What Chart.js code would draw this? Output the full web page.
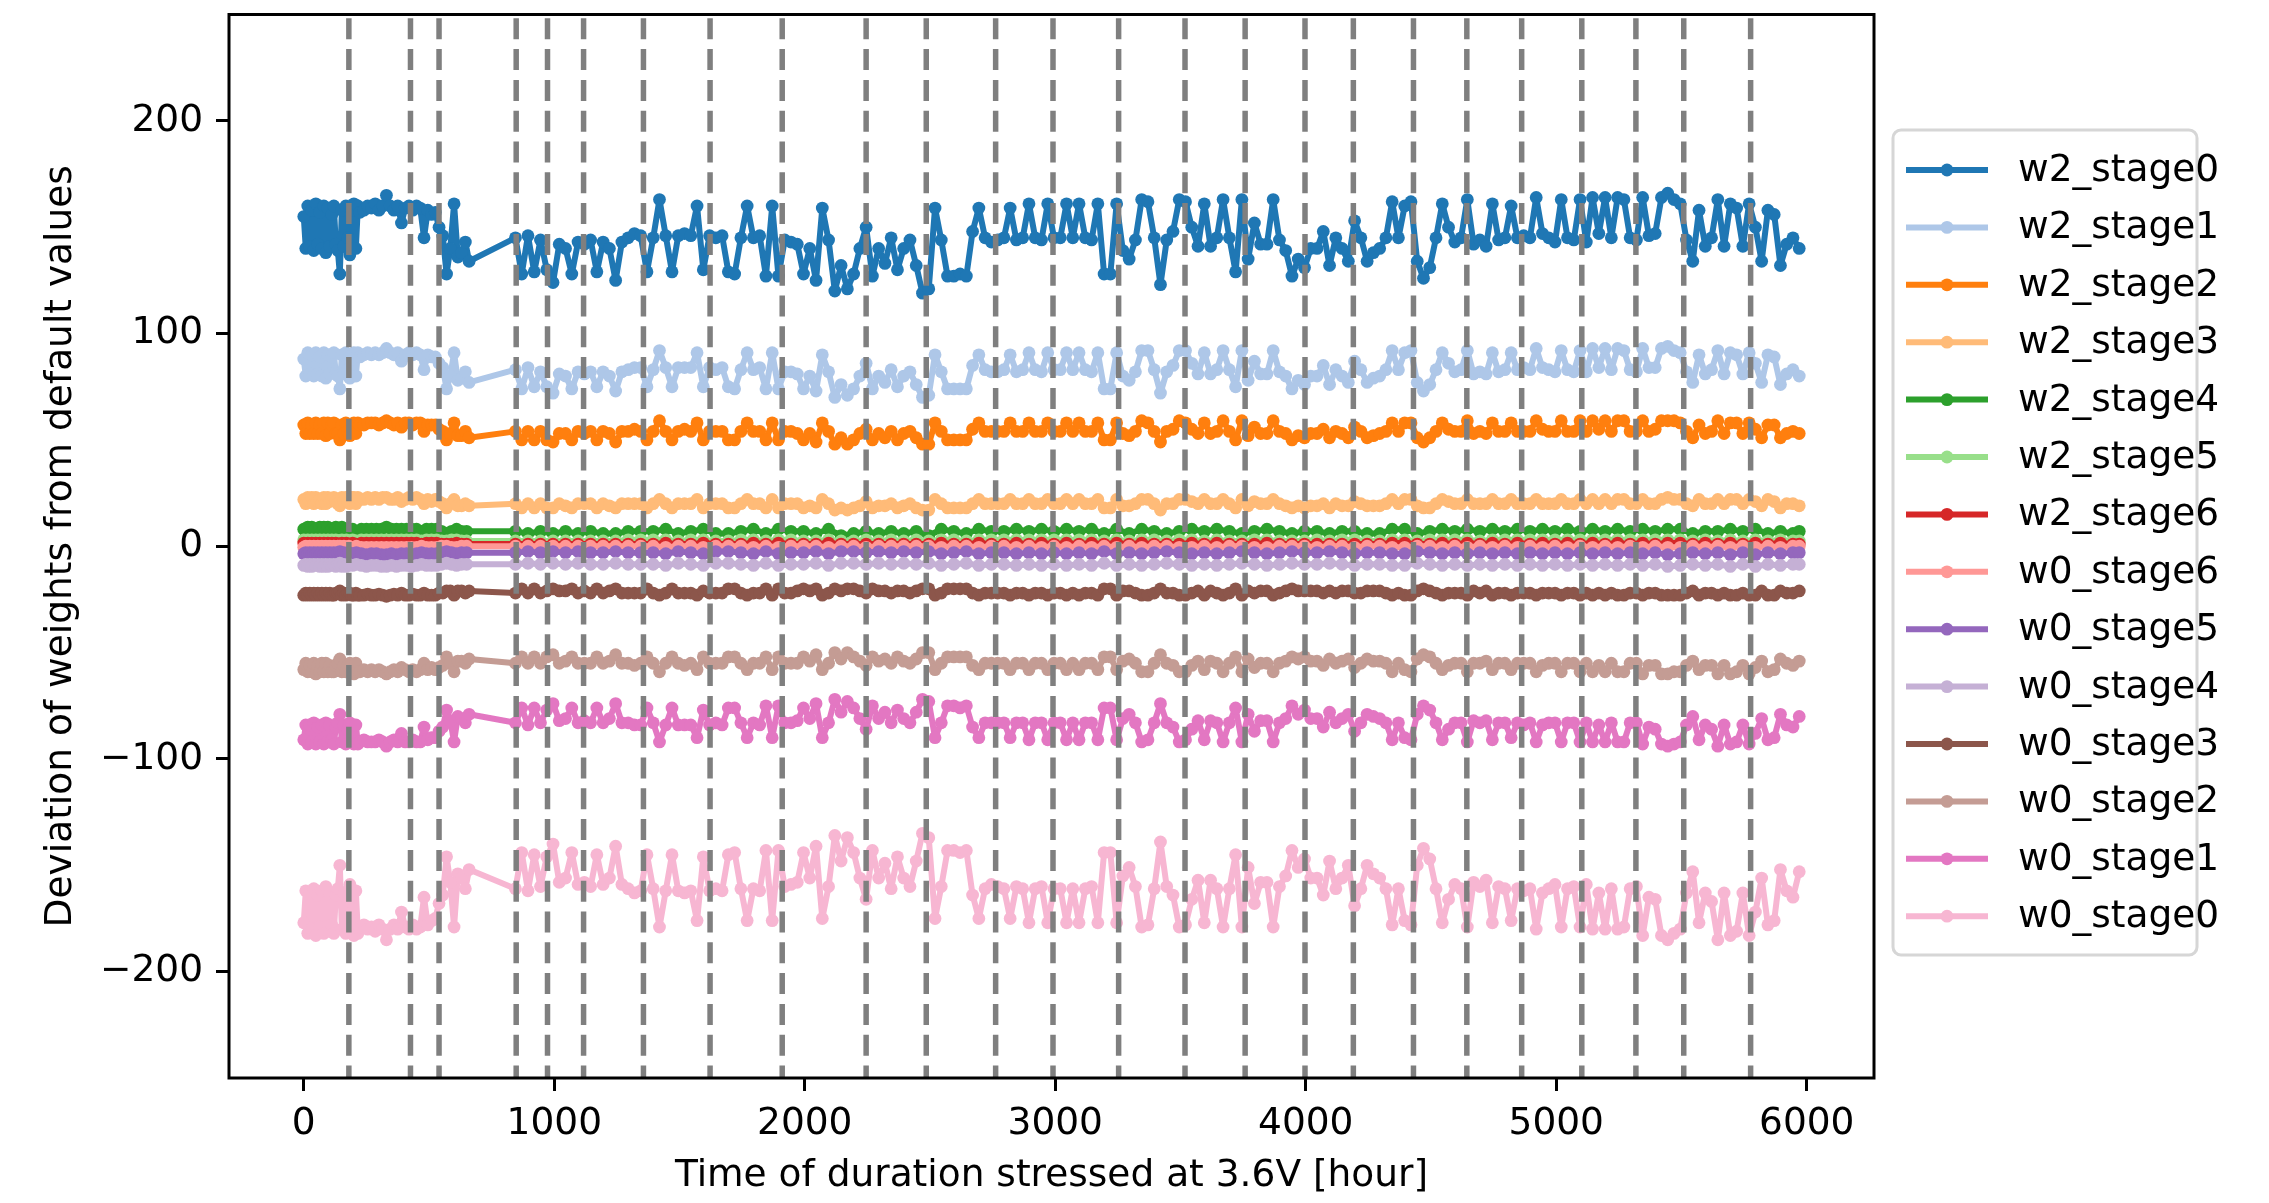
<!DOCTYPE html>
<html>
<head>
<meta charset="utf-8">
<script src="https://cdn.jsdelivr.net/npm/chart.js@4.4.0/dist/chart.umd.min.js"></script>
<style>
  html, body { margin: 0; padding: 0; background: #fff; }
  #wrap { width: 2269px; height: 1203px; }
</style>
</head>
<body>
<div id="wrap"><canvas id="chart" width="2269" height="1203"></canvas></div>
<script>
// Horas de estrés: grilla densa (series con mucha variación) y grilla gruesa (series casi planas)
const hoursDense = [
  0, 8, 16, 24, 32, 40, 48, 56, 64, 72,
  80, 88, 96, 104, 112, 120, 128, 136, 144, 152,
  160, 168, 176, 184, 192, 200, 208, 216, 224,
  240, 255, 270, 285, 300, 315, 330, 345, 360, 375,
  390, 405, 420, 435, 450, 465, 480, 495, 510, 525,
  540, 555, 570, 585, 600, 615, 630, 645, 660,
  845, 870, 895, 920, 945, 970, 995, 1020, 1045, 1070,
  1095, 1120, 1145, 1170, 1195, 1220, 1245, 1270, 1295, 1320,
  1345, 1370, 1395, 1420, 1445, 1470, 1495, 1520, 1545, 1570,
  1595, 1620, 1645, 1670, 1695, 1720, 1745, 1770, 1795, 1820,
  1845, 1870, 1895, 1920, 1945, 1970, 1995, 2020, 2045, 2070,
  2095, 2120, 2145, 2170, 2195, 2220, 2245, 2270, 2295, 2320,
  2345, 2370, 2395, 2420, 2445, 2470, 2495, 2520, 2545, 2570,
  2595, 2620, 2645, 2670, 2695, 2720, 2745, 2770, 2795, 2820,
  2845, 2870, 2895, 2920, 2945, 2970, 2995, 3020, 3045, 3070,
  3095, 3120, 3145, 3170, 3195, 3220, 3245, 3270, 3295, 3320,
  3345, 3370, 3395, 3420, 3445, 3470, 3495, 3520, 3545, 3570,
  3595, 3620, 3645, 3670, 3695, 3720, 3745, 3770, 3795, 3820,
  3845, 3870, 3895, 3920, 3945, 3970, 3995, 4020, 4045, 4070,
  4095, 4120, 4145, 4170, 4195, 4220, 4245, 4270, 4295, 4320,
  4345, 4370, 4395, 4420, 4445, 4470, 4495, 4520, 4545, 4570,
  4595, 4620, 4645, 4670, 4695, 4720, 4745, 4770, 4795, 4820,
  4845, 4870, 4895, 4920, 4945, 4970, 4995, 5020, 5045, 5070,
  5095, 5120, 5145, 5170, 5195, 5220, 5245, 5270, 5295, 5320,
  5345, 5370, 5395, 5420, 5445, 5470, 5495, 5520, 5545, 5570,
  5595, 5620, 5645, 5670, 5695, 5720, 5745, 5770, 5795, 5820,
  5845, 5870, 5895, 5920, 5945, 5970
];

const hoursCoarse = [
  0, 8, 16, 24, 32, 40, 48, 56, 64, 72,
  80, 88, 96, 104, 112, 120, 128, 136, 144, 152,
  160, 170, 180, 195, 210, 230, 250, 270, 290, 310,
  330, 350, 370, 390, 410, 430, 450, 470, 490, 510,
  530, 550, 570, 590, 610, 630, 650, 845, 895, 945,
  995, 1045, 1095, 1145, 1195, 1245, 1295, 1345, 1395, 1445,
  1495, 1545, 1595, 1645, 1695, 1745, 1795, 1845, 1895, 1945,
  1995, 2045, 2095, 2145, 2195, 2245, 2295, 2345, 2395, 2445,
  2495, 2545, 2595, 2645, 2695, 2745, 2795, 2845, 2895, 2945,
  2995, 3045, 3095, 3145, 3195, 3245, 3295, 3345, 3395, 3445,
  3495, 3545, 3595, 3645, 3695, 3745, 3795, 3845, 3895, 3945,
  3995, 4045, 4095, 4145, 4195, 4245, 4295, 4345, 4395, 4445,
  4495, 4545, 4595, 4645, 4695, 4745, 4795, 4845, 4895, 4945,
  4995, 5045, 5095, 5145, 5195, 5245, 5295, 5345, 5395, 5445,
  5495, 5545, 5595, 5645, 5695, 5745, 5795, 5845, 5895, 5945,
  5970
];

// --- series en grilla densa ---
const w2Stage0 = [
  155, 140, 160, 141, 158, 139, 161, 142, 157, 140,
  160, 138, 159, 141, 156, 160, 142, 139, 128, 158,
  141, 160, 145, 137, 158, 161, 140, 160, 157,
  158, 160, 159, 161, 158, 160, 165, 160, 158, 160,
  152, 159, 160, 158, 160, 159, 145, 158, 156, 157,
  150, 146, 128, 140, 161, 136, 138, 143, 134,
  145, 128, 146, 129, 144, 130, 124, 142, 140, 128,
  143, 142, 144, 129, 143, 140, 125, 143, 145, 147,
  146, 129, 145, 163, 146, 129, 146, 147, 146, 160,
  130, 146, 145, 146, 129, 128, 145, 160, 145, 146,
  127, 160, 127, 144, 143, 142, 128, 140, 125, 159,
  144, 120, 132, 121, 128, 140, 150, 127, 140, 133,
  145, 130, 140, 144, 132, 119, 121, 159, 144, 127,
  127, 128, 127, 148, 159, 145, 143, 144, 145, 159,
  144, 145, 161, 145, 144, 161, 145, 145, 161, 145,
  161, 145, 144, 161, 128, 128, 161, 139, 135, 144,
  163, 162, 145, 123, 144, 148, 163, 162, 150, 141,
  161, 141, 145, 163, 145, 129, 163, 135, 152, 142,
  142, 163, 144, 139, 127, 135, 131, 140, 140, 148,
  132, 145, 140, 134, 153, 145, 134, 138, 140, 145,
  162, 145, 160, 162, 134, 126, 131, 145, 161, 150,
  143, 145, 163, 142, 144, 141, 161, 144, 145, 160,
  145, 146, 145, 164, 147, 145, 143, 163, 145, 144,
  163, 143, 164, 147, 164, 145, 164, 163, 145, 144,
  164, 146, 147, 164, 166, 163, 161, 144, 134, 158,
  141, 145, 163, 141, 161, 159, 141, 161, 150, 134,
  158, 156, 132, 142, 145, 140
];

const w2Stage1 = [
  88, 80, 91, 81, 90, 80, 91, 81, 89, 80,
  91, 79, 90, 81, 89, 91, 81, 80, 74, 90,
  81, 91, 83, 79, 90, 91, 80, 91, 89,
  90, 91, 90, 91, 90, 91, 93, 91, 90, 91,
  87, 90, 91, 90, 91, 90, 83, 90, 89, 89,
  86, 84, 74, 80, 91, 78, 79, 82, 77,
  83, 74, 84, 75, 82, 75, 72, 81, 80, 74,
  82, 81, 82, 75, 82, 80, 73, 82, 83, 84,
  84, 75, 83, 92, 84, 75, 84, 84, 84, 91,
  75, 84, 83, 84, 75, 74, 83, 91, 83, 84,
  74, 91, 74, 82, 82, 81, 74, 80, 73, 90,
  82, 70, 76, 71, 74, 80, 86, 74, 80, 77,
  83, 75, 80, 82, 76, 70, 71, 90, 82, 74,
  74, 74, 74, 85, 90, 83, 82, 82, 83, 90,
  82, 83, 91, 83, 82, 91, 83, 83, 91, 83,
  91, 83, 82, 91, 74, 74, 91, 80, 78, 82,
  92, 92, 83, 72, 82, 85, 92, 92, 86, 81,
  91, 81, 83, 92, 83, 75, 92, 78, 87, 81,
  81, 92, 82, 80, 74, 78, 76, 80, 80, 85,
  76, 83, 80, 77, 87, 83, 77, 79, 80, 83,
  92, 83, 91, 92, 77, 73, 76, 83, 91, 86,
  82, 83, 92, 81, 82, 81, 91, 82, 83, 91,
  83, 84, 83, 93, 84, 83, 82, 92, 83, 82,
  92, 82, 93, 84, 93, 83, 93, 92, 83, 82,
  93, 84, 84, 93, 94, 92, 91, 82, 77, 90,
  81, 83, 92, 81, 91, 90, 81, 91, 86, 77,
  90, 89, 76, 81, 83, 80
];

const w2Stage2 = [
  57, 53, 58, 53, 57, 53, 58, 53, 57, 53,
  58, 52, 58, 53, 57, 58, 53, 53, 50, 57,
  53, 58, 54, 52, 57, 58, 53, 58, 57,
  57, 58, 58, 58, 57, 58, 59, 58, 57, 58,
  56, 58, 58, 57, 58, 58, 54, 57, 57, 57,
  55, 54, 50, 53, 58, 52, 52, 54, 51,
  54, 50, 54, 50, 54, 50, 49, 53, 53, 50,
  54, 53, 54, 50, 54, 53, 49, 54, 54, 55,
  54, 50, 54, 59, 54, 50, 54, 55, 54, 58,
  50, 54, 54, 54, 50, 50, 54, 58, 54, 54,
  50, 58, 50, 54, 54, 53, 50, 53, 49, 58,
  54, 48, 51, 48, 50, 53, 55, 50, 53, 51,
  54, 50, 53, 54, 51, 48, 48, 58, 54, 50,
  50, 50, 50, 55, 58, 54, 54, 54, 54, 58,
  54, 54, 58, 54, 54, 58, 54, 54, 58, 54,
  58, 54, 54, 58, 50, 50, 58, 53, 52, 54,
  59, 58, 54, 49, 54, 55, 59, 58, 55, 53,
  58, 53, 54, 59, 54, 50, 59, 52, 56, 53,
  53, 59, 54, 53, 50, 52, 51, 53, 53, 55,
  51, 54, 53, 51, 56, 54, 51, 52, 53, 54,
  58, 54, 58, 58, 51, 49, 51, 54, 58, 55,
  54, 54, 59, 53, 54, 53, 58, 54, 54, 58,
  54, 54, 54, 59, 55, 54, 54, 59, 54, 54,
  59, 54, 59, 55, 59, 54, 59, 59, 54, 54,
  59, 54, 55, 59, 59, 59, 58, 54, 51, 57,
  53, 54, 59, 53, 58, 58, 53, 58, 55, 51,
  57, 57, 51, 53, 54, 53
];

const w2Stage3 = [
  22, 20, 23, 21, 23, 20, 23, 21, 22, 20,
  23, 20, 23, 21, 22, 23, 21, 20, 19, 23,
  21, 23, 21, 20, 23, 23, 20, 23, 22,
  22, 23, 22, 23, 22, 23, 23, 22, 22, 23,
  21, 22, 23, 22, 23, 22, 20, 22, 21, 22,
  21, 20, 18, 20, 22, 19, 19, 20, 19,
  20, 18, 20, 18, 20, 18, 18, 20, 19, 18,
  20, 20, 20, 18, 20, 19, 18, 20, 20, 20,
  20, 18, 20, 22, 20, 18, 20, 20, 20, 22,
  18, 20, 20, 20, 18, 18, 20, 22, 20, 20,
  18, 22, 18, 20, 20, 20, 18, 19, 18, 22,
  20, 17, 18, 17, 18, 19, 21, 18, 19, 19,
  20, 18, 19, 20, 18, 17, 17, 22, 20, 18,
  18, 18, 18, 20, 22, 20, 20, 20, 20, 22,
  20, 20, 22, 20, 20, 22, 20, 20, 22, 20,
  22, 20, 20, 22, 18, 18, 22, 19, 19, 20,
  22, 22, 20, 17, 20, 20, 22, 22, 21, 20,
  22, 20, 20, 22, 20, 18, 22, 19, 21, 20,
  20, 22, 20, 19, 18, 19, 18, 19, 19, 20,
  18, 20, 19, 19, 21, 20, 19, 19, 19, 20,
  22, 20, 22, 22, 19, 18, 18, 20, 22, 21,
  20, 20, 22, 20, 20, 20, 22, 20, 20, 22,
  20, 20, 20, 22, 20, 20, 20, 22, 20, 20,
  22, 20, 22, 20, 22, 20, 22, 22, 20, 20,
  22, 20, 20, 22, 23, 22, 22, 20, 19, 22,
  20, 20, 22, 20, 22, 22, 20, 22, 21, 19,
  22, 21, 18, 20, 20, 19
];

const w0Stage3 = [
  -23, -22, -23, -22, -23, -22, -23, -22, -23, -22,
  -23, -22, -23, -22, -23, -23, -22, -22, -21, -23,
  -22, -23, -22, -22, -23, -23, -22, -23, -23,
  -23, -22.5, -23, -23, -22.5, -23, -23.5, -23, -22.5, -23,
  -22, -23, -23, -22.5, -23, -23, -22, -23, -23, -23,
  -22, -22, -21, -21, -23, -21, -21, -22, -21,
  -22, -20, -22, -20, -22, -21, -20, -21, -21, -20,
  -22, -21, -22, -20, -22, -21, -20, -22, -22, -22,
  -22, -20, -22, -23, -22, -20, -22, -22, -22, -23,
  -21, -22, -22, -22, -20, -20, -22, -23, -22, -22,
  -20, -23, -20, -22, -22, -21, -20, -21, -20, -23,
  -22, -20, -21, -20, -20, -21, -22, -20, -21, -21,
  -22, -21, -21, -22, -21, -20, -20, -23, -22, -20,
  -20, -20, -20, -22, -23, -22, -22, -22, -22, -23,
  -22, -22, -23, -22, -22, -23, -22, -22, -23, -22,
  -23, -22, -22, -23, -20, -20, -23, -21, -21, -22,
  -23, -23, -22, -20, -22, -22, -23, -23, -22, -21,
  -23, -21, -22, -23, -22, -20, -23, -21, -22, -21,
  -21, -23, -22, -21, -20, -21, -21, -21, -21, -22,
  -21, -22, -21, -21, -22, -22, -21, -21, -21, -22,
  -23, -22, -23, -23, -21, -20, -21, -22, -23, -22,
  -22, -22, -23, -21, -22, -21, -23, -22, -22, -23,
  -22, -22, -22, -23, -22, -22, -22, -23, -22, -22,
  -23, -22, -23, -22, -23, -22, -23, -23, -22, -22,
  -23, -22, -22, -23, -23, -23, -23, -22, -21, -23,
  -22, -22, -23, -22, -23, -23, -22, -23, -23, -21,
  -23, -23, -21, -22, -22, -21
];

const w0Stage2 = [
  -58, -55, -59, -56, -59, -55, -60, -56, -59, -55,
  -59, -55, -59, -56, -59, -59, -56, -55, -53, -59,
  -56, -59, -56, -55, -59, -60, -55, -59, -59,
  -58, -59, -58, -59, -58, -59, -60, -59, -58, -59,
  -57, -58, -59, -58, -59, -58, -55, -58, -57, -58,
  -57, -56, -52, -55, -59, -54, -54, -55, -53,
  -55, -52, -55, -52, -55, -52, -51, -55, -54, -52,
  -55, -55, -55, -52, -55, -54, -51, -55, -55, -56,
  -55, -52, -55, -59, -55, -52, -55, -56, -55, -58,
  -52, -55, -55, -55, -52, -52, -55, -58, -55, -55,
  -52, -58, -52, -55, -55, -55, -52, -54, -51, -58,
  -55, -50, -53, -50, -52, -54, -56, -52, -54, -53,
  -55, -52, -54, -55, -53, -50, -50, -58, -55, -52,
  -52, -52, -52, -56, -58, -55, -55, -55, -55, -58,
  -55, -55, -58, -55, -55, -58, -55, -55, -58, -55,
  -58, -55, -55, -58, -52, -52, -58, -54, -53, -55,
  -59, -59, -55, -51, -55, -56, -59, -59, -56, -54,
  -58, -54, -55, -59, -55, -52, -59, -53, -57, -55,
  -55, -59, -55, -54, -52, -53, -52, -54, -54, -56,
  -53, -55, -54, -53, -57, -55, -53, -54, -54, -55,
  -59, -55, -58, -59, -53, -51, -52, -55, -58, -56,
  -55, -55, -59, -55, -55, -54, -58, -55, -55, -58,
  -55, -55, -55, -59, -56, -55, -55, -59, -55, -55,
  -59, -55, -59, -56, -59, -55, -59, -59, -55, -55,
  -60, -56, -56, -60, -60, -59, -59, -56, -54, -58,
  -56, -56, -60, -56, -60, -59, -56, -60, -57, -54,
  -59, -58, -53, -55, -56, -54
];

const w0Stage1 = [
  -91, -84, -93, -84, -92, -83, -93, -85, -92, -84,
  -93, -83, -92, -84, -91, -93, -85, -83, -79, -92,
  -84, -93, -86, -83, -92, -93, -84, -93, -92,
  -91, -92, -92, -92, -91, -92, -94, -92, -91, -92,
  -88, -92, -92, -91, -92, -92, -85, -91, -90, -90,
  -87, -85, -77, -82, -92, -80, -81, -83, -79,
  -83, -76, -84, -76, -83, -77, -74, -82, -81, -76,
  -83, -82, -83, -76, -83, -81, -74, -83, -83, -84,
  -84, -76, -83, -92, -84, -76, -84, -84, -84, -90,
  -77, -84, -83, -84, -76, -76, -83, -90, -83, -84,
  -75, -90, -75, -83, -83, -82, -76, -81, -74, -90,
  -83, -72, -78, -73, -76, -81, -86, -75, -81, -78,
  -83, -77, -81, -83, -78, -72, -73, -90, -83, -75,
  -75, -76, -75, -85, -90, -83, -83, -83, -83, -90,
  -83, -83, -91, -83, -83, -91, -83, -83, -91, -83,
  -91, -83, -83, -91, -76, -76, -91, -81, -79, -83,
  -92, -91, -83, -74, -83, -85, -92, -91, -86, -82,
  -91, -82, -83, -92, -83, -76, -92, -79, -87, -82,
  -82, -92, -83, -81, -75, -79, -77, -81, -81, -85,
  -78, -83, -81, -79, -87, -83, -79, -80, -81, -83,
  -91, -83, -90, -91, -79, -75, -77, -83, -91, -86,
  -83, -83, -92, -82, -83, -82, -91, -83, -83, -90,
  -83, -84, -83, -92, -84, -83, -83, -92, -83, -83,
  -92, -83, -92, -84, -92, -83, -92, -92, -83, -83,
  -93, -85, -86, -93, -94, -93, -92, -84, -80, -91,
  -84, -86, -94, -84, -93, -92, -84, -93, -88, -81,
  -91, -90, -79, -84, -85, -80
];

const w0Stage0 = [
  -177, -162, -182, -163, -180, -161, -183, -164, -179, -162,
  -182, -160, -181, -163, -178, -182, -164, -161, -150, -180,
  -163, -182, -167, -159, -180, -183, -162, -182, -179,
  -178, -180, -179, -181, -178, -180, -185, -180, -178, -180,
  -172, -179, -180, -178, -180, -179, -165, -178, -176, -175,
  -168, -164, -146, -158, -179, -154, -156, -161, -152,
  -161, -144, -162, -145, -160, -146, -140, -158, -156, -144,
  -159, -158, -160, -145, -159, -156, -141, -159, -161, -163,
  -162, -145, -161, -179, -162, -145, -162, -163, -162, -176,
  -146, -162, -161, -162, -145, -144, -161, -176, -161, -162,
  -143, -176, -143, -160, -159, -158, -144, -156, -141, -175,
  -160, -136, -148, -137, -144, -156, -166, -143, -156, -149,
  -161, -146, -156, -160, -148, -135, -137, -175, -160, -143,
  -143, -144, -143, -164, -175, -161, -159, -160, -161, -175,
  -160, -161, -177, -161, -160, -177, -161, -161, -177, -161,
  -177, -161, -160, -177, -144, -144, -177, -155, -151, -160,
  -179, -178, -161, -139, -160, -164, -179, -178, -166, -157,
  -177, -157, -161, -179, -161, -145, -179, -151, -168, -158,
  -158, -179, -160, -155, -143, -151, -147, -156, -156, -164,
  -148, -161, -156, -150, -169, -161, -150, -154, -156, -161,
  -178, -161, -176, -178, -150, -142, -147, -161, -177, -166,
  -159, -161, -179, -158, -160, -157, -177, -160, -161, -176,
  -161, -162, -161, -180, -163, -161, -159, -179, -161, -160,
  -179, -159, -180, -163, -180, -161, -180, -179, -161, -160,
  -183, -165, -166, -183, -185, -182, -180, -163, -153, -177,
  -163, -167, -185, -163, -183, -181, -163, -183, -172, -156,
  -178, -176, -152, -162, -165, -153
];

// --- series casi planas, en grilla gruesa ---
const w2Stage4 = [
  8, 7, 9, 7, 9, 7, 8, 7, 9, 7,
  9, 7, 9, 7, 8, 7, 9, 7, 6, 9,
  7, 8, 7, 8, 7, 8, 8, 8, 8, 8,
  9, 8, 8, 8, 8, 8, 8, 7, 8, 8,
  8, 7, 6, 7, 8, 7, 7, 7, 6, 7,
  6, 7, 6, 7, 6, 6, 7, 7, 7, 8,
  6, 7, 8, 6, 6, 7, 8, 6, 8, 7,
  7, 6, 8, 5, 6, 7, 6, 7, 6, 7,
  5, 8, 7, 6, 8, 7, 7, 8, 7, 8,
  7, 8, 7, 8, 6, 8, 6, 8, 7, 6,
  7, 8, 7, 8, 7, 6, 7, 8, 7, 6,
  7, 7, 6, 7, 7, 6, 6, 8, 8, 6,
  7, 8, 7, 8, 7, 8, 7, 8, 7, 8,
  7, 8, 7, 8, 7, 8, 7, 8, 7, 8,
  8, 6, 7, 7, 8, 7, 8, 6, 7, 6,
  7
];

const w2Stage5 = [
  3, 2.5, 3, 2.5, 3, 2.5, 3, 2.5, 3, 2.5,
  3, 2.5, 3, 2.5, 3, 2.5, 3, 2.5, 2.5, 3,
  2.5, 3, 2.5, 3, 2.5, 3, 3, 3, 3, 3,
  3, 3, 3, 3, 3, 3, 3, 2.5, 3, 3,
  3, 2.5, 2.5, 3, 3, 2.5, 2.5, 2.5, 2.5, 2.5,
  2.5, 2.5, 2.5, 2.5, 2.5, 2.5, 3, 3, 3, 3,
  2.5, 3, 3, 2.5, 2.5, 3, 3, 2.5, 3, 3,
  2.5, 2.5, 3, 2.5, 2.5, 3, 2.5, 3, 2.5, 3,
  2.5, 3, 3, 2.5, 3, 3, 3, 3, 3, 3,
  3, 3, 3, 3, 2.5, 3, 2.5, 3, 3, 2.5,
  3, 3, 2.5, 3, 2.5, 2.5, 3, 3, 2.5, 2.5,
  2.5, 3, 2.5, 3, 3, 2.5, 2.5, 3, 3, 2.5,
  3, 3, 3, 3, 2.5, 3, 3, 3, 3, 3,
  3, 3, 3, 3, 3, 3, 3, 3, 3, 3,
  3, 2.5, 3, 2.5, 3, 2.5, 3, 2.5, 3, 2.5,
  2.5
];

const w2Stage6 = [
  1.5, 1, 1.5, 1, 1.5, 1, 1.5, 1, 1.5, 1,
  1.5, 1, 1.5, 1, 1.5, 1, 1.5, 1, 1, 1.5,
  1, 1.5, 1, 1.5, 1, 1.5, 1.5, 1.5, 1.5, 1.5,
  1.5, 1.5, 1.5, 1.5, 1.5, 1.5, 1.5, 1, 1.5, 1.5,
  1.5, 1, 1, 1, 1.5, 1, 1, 1, 1, 1,
  1, 1, 1, 1, 1, 1, 1, 1, 1, 1.5,
  1, 1, 1.5, 1, 1, 1, 1.5, 1, 1.5, 1,
  1, 1, 1.5, 1, 1, 1, 1, 1, 1, 1,
  1, 1.5, 1, 1, 1.5, 1, 1, 1.5, 1, 1.5,
  1, 1.5, 1, 1.5, 1, 1.5, 1, 1.5, 1, 1,
  1, 1.5, 1, 1.5, 1, 1, 1, 1.5, 1, 1,
  1, 1, 1, 1, 1, 1, 1, 1.5, 1.5, 1,
  1, 1.5, 1, 1.5, 1, 1.5, 1, 1.5, 1, 1.5,
  1, 1.5, 1, 1.5, 1, 1.5, 1, 1.5, 1, 1.5,
  1.5, 1, 1.5, 1, 1.5, 1, 1.5, 1, 1.5, 1,
  1
];

const w0Stage6 = [
  -0.5, 0, -0.5, 0, -0.5, 0, -0.5, 0, -0.5, 0,
  -0.5, 0, -0.5, 0, -0.5, 0, -0.5, 0, 0, -0.5,
  0, -0.5, 0, -0.5, 0, -0.5, -0.5, -0.5, -0.5, -0.5,
  -0.5, -0.5, -0.5, -0.5, -0.5, -0.5, -0.5, 0, -0.5, -0.5,
  -0.5, 0, 0, -0.5, -0.5, 0, 0, 0, 0, 0,
  0, 0, 0, 0, 0, 0, 0, 0, 0, -0.5,
  0, 0, -0.5, 0, 0, 0, -0.5, 0, -0.5, 0,
  0, 0, -0.5, 0, 0, -0.5, 0, 0, 0, 0,
  0, -0.5, 0, 0, -0.5, 0, 0, -0.5, 0, -0.5,
  0, -0.5, 0, -0.5, 0, -0.5, 0, -0.5, 0, 0,
  -0.5, -0.5, 0, -0.5, 0, 0, -0.5, -0.5, 0, 0,
  0, -0.5, 0, 0, -0.5, 0, 0, -0.5, -0.5, 0,
  0, -0.5, 0, -0.5, 0, -0.5, 0, -0.5, 0, -0.5,
  0, -0.5, 0, -0.5, 0, -0.5, 0, -0.5, 0, -0.5,
  -0.5, 0, -0.5, 0, -0.5, 0, -0.5, 0, -0.5, 0,
  0
];

const w0Stage5 = [
  -3.5, -3, -3.5, -3, -4, -3, -3.5, -3, -4, -3,
  -3.5, -3, -4, -3, -3.5, -3, -4, -3, -2.5, -3.5,
  -3, -4, -3, -3.5, -3, -3.5, -4, -3.5, -3.5, -4,
  -4, -3.5, -4, -3.5, -3.5, -4, -3.5, -3, -3.5, -3.5,
  -3.5, -3, -2.5, -3, -3.5, -3, -3, -3, -2.5, -3,
  -2.5, -3, -2.5, -3, -3, -2.5, -3, -3, -3, -3.5,
  -2.5, -3, -3.5, -2.5, -2.5, -3, -3.5, -2.5, -3.5, -3,
  -3, -2.5, -3.5, -2.5, -2.5, -3, -2.5, -3, -2.5, -3,
  -2.5, -3.5, -3, -2.5, -3.5, -3, -3, -3.5, -3, -3.5,
  -3, -3.5, -3, -3.5, -2.5, -3.5, -3, -3.5, -3, -2.5,
  -3, -3.5, -3, -3.5, -3, -2.5, -3, -3.5, -3, -2.5,
  -3, -3, -2.5, -3, -3.5, -3, -3, -3.5, -3.5, -2.5,
  -3, -3.5, -3, -3.5, -3, -3.5, -3, -3.5, -3, -3.5,
  -3, -3.5, -3, -3.5, -3, -3.5, -3, -3.5, -3, -4,
  -3.5, -3, -3.5, -3, -4, -3, -4, -3, -3.5, -3,
  -3
];

const w0Stage4 = [
  -9, -8.5, -9.5, -8.5, -9.5, -8.5, -9, -8.5, -9.5, -8.5,
  -9.5, -8.5, -9.5, -8.5, -9, -8.5, -9.5, -8.5, -8, -9.5,
  -8.5, -9.5, -8.5, -9, -8.5, -9, -9.5, -9, -9, -9.5,
  -9.5, -9, -9.5, -9, -9, -9.5, -9, -8.5, -9, -9,
  -9, -8.5, -8, -8.5, -9, -8.5, -8.5, -8.5, -8, -8.5,
  -8, -8.5, -8, -8.5, -8.5, -8, -8.5, -8.5, -8.5, -9,
  -8, -8.5, -9, -8, -8, -8.5, -9, -8, -9, -8.5,
  -8.5, -8, -9, -8, -8, -8.5, -8, -8.5, -8, -8.5,
  -8, -9, -8.5, -8, -9, -8.5, -8.5, -9, -8.5, -9,
  -8.5, -9, -8.5, -9, -8, -9, -8.5, -9, -8.5, -8,
  -8.5, -9, -8.5, -9, -8.5, -8, -8.5, -9, -8.5, -8,
  -8.5, -8.5, -8, -8.5, -9, -8.5, -8.5, -9, -9, -8,
  -8.5, -9, -8.5, -9, -8.5, -9, -8.5, -9, -8.5, -9,
  -8.5, -9, -8.5, -9, -8.5, -9, -8.5, -9, -8.5, -9.5,
  -9, -8.5, -9, -8.5, -9.5, -8.5, -9.5, -8.5, -9, -8.5,
  -8.5
];

const seriesNames = [
  'w2_stage0', 'w2_stage1', 'w2_stage2', 'w2_stage3', 'w2_stage4', 'w2_stage5', 'w2_stage6',
  'w0_stage6', 'w0_stage5', 'w0_stage4', 'w0_stage3', 'w0_stage2', 'w0_stage1', 'w0_stage0'
];
const seriesValues = [
  w2Stage0, w2Stage1, w2Stage2, w2Stage3, w2Stage4, w2Stage5, w2Stage6,
  w0Stage6, w0Stage5, w0Stage4, w0Stage3, w0Stage2, w0Stage1, w0Stage0
];
const seriesHours = [
  hoursDense, hoursDense, hoursDense, hoursDense, hoursCoarse, hoursCoarse, hoursCoarse,
  hoursCoarse, hoursCoarse, hoursCoarse, hoursDense, hoursDense, hoursDense, hoursDense
];

// Marcas de ejes y líneas verticales de interrupción del estrés
const xTicks = [0, 1000, 2000, 3000, 4000, 5000, 6000];
const yTicks = [-200, -100, 0, 100, 200];
const stressBreaks = [
  180, 426, 540, 848, 973, 1117, 1356, 1622, 1910, 2245, 2485, 2762, 2991,
  3253, 3518, 3758, 3997, 4190, 4430, 4643, 4862, 5102, 5318, 5509, 5776
];

// Paleta tab20
const palette = [
  '#1f77b4', '#aec7e8', '#ff7f0e', '#ffbb78', '#2ca02c', '#98df8a', '#d62728',
  '#ff9896', '#9467bd', '#c5b0d5', '#8c564b', '#c49c94', '#e377c2', '#f7b6d2'
];

const FONT = 'DejaVu Sans';
const FONT_SIZE = 37.5;
const LINE_W = 6;
const DOT_R = 6.4;

const datasets = seriesNames.map((name, i) => ({
  label: name,
  data: seriesHours[i].map((h, j) => ({ x: h, y: seriesValues[i][j] })),
  borderColor: palette[i],
  backgroundColor: palette[i],
  borderWidth: LINE_W,
  borderJoinStyle: 'round',
  borderCapStyle: 'round',
  pointRadius: DOT_R,
  pointHoverRadius: DOT_R,
  pointBorderWidth: 0,
  pointBackgroundColor: palette[i],
  tension: 0,
  order: -i
}));

// Líneas verticales discontinuas y marco del área
const stressLines = {
  id: 'stressLines',
  afterDatasetsDraw(chart) {
    const { ctx, chartArea: a, scales: { x } } = chart;
    ctx.save();
    ctx.beginPath();
    ctx.rect(a.left, a.top, a.right - a.left, a.bottom - a.top);
    ctx.clip();
    ctx.strokeStyle = '#7f7f7f';
    ctx.lineWidth = 5.5;
    ctx.setLineDash([21, 9.8]);
    ctx.lineDashOffset = 27;
    stressBreaks.forEach(h => {
      const px = x.getPixelForValue(h);
      ctx.beginPath();
      ctx.moveTo(px, a.top);
      ctx.lineTo(px, a.bottom);
      ctx.stroke();
    });
    ctx.restore();

    ctx.save();
    ctx.strokeStyle = '#000';
    ctx.lineWidth = 3;
    ctx.strokeRect(a.left, a.top, a.right - a.left, a.bottom - a.top);
    ctx.restore();
  }
};

// Leyenda lateral, al estilo matplotlib
const sideLegend = {
  id: 'sideLegend',
  afterDraw(chart) {
    const ctx = chart.ctx;
    const left = 1893, top = 130, right = 2197, bottom = 955;
    ctx.save();
    ctx.fillStyle = 'rgba(255,255,255,0.8)';
    ctx.strokeStyle = '#d6d6d6';
    ctx.lineWidth = 3;
    ctx.beginPath();
    ctx.roundRect(left, top, right - left, bottom - top, 8);
    ctx.fill();
    ctx.stroke();

    seriesNames.forEach((name, i) => {
      const y = 170 + i * 57.4;
      ctx.strokeStyle = palette[i];
      ctx.lineWidth = LINE_W;
      ctx.beginPath();
      ctx.moveTo(1906, y);
      ctx.lineTo(1988, y);
      ctx.stroke();
      ctx.fillStyle = palette[i];
      ctx.beginPath();
      ctx.arc(1947, y, DOT_R, 0, Math.PI * 2);
      ctx.fill();
      ctx.fillStyle = '#000';
      ctx.font = `${FONT_SIZE}px "${FONT}"`;
      ctx.textAlign = 'left';
      ctx.textBaseline = 'alphabetic';
      ctx.fillText(name, 2018, y + 11);
    });
    ctx.restore();
  }
};

const tickFont = { family: FONT, size: FONT_SIZE };

new Chart(document.getElementById('chart'), {
  type: 'line',
  data: { datasets },
  plugins: [stressLines, sideLegend],
  options: {
    responsive: false,
    devicePixelRatio: 1,
    animation: false,
    layout: { padding: { left: 0, top: 14.5, right: 395, bottom: 0 } },
    plugins: {
      legend: { display: false },
      tooltip: { enabled: false }
    },
    scales: {
      x: {
        type: 'linear',
        min: -298.5,
        max: 6268.5,
        afterBuildTicks: s => { s.ticks = xTicks.map(v => ({ value: v })); },
        afterFit: s => { s.height = 125; s.paddingLeft = 0; s.paddingRight = 0; },
        grid: { drawOnChartArea: false, tickLength: 13, tickWidth: 3, tickColor: '#000' },
        border: { display: false },
        ticks: {
          font: tickFont, color: '#000', padding: 11, maxRotation: 0, autoSkip: false,
          callback: v => String(v)
        },
        title: {
          display: true,
          text: 'Time of duration stressed at 3.6V [hour]',
          font: tickFont,
          color: '#000',
          padding: { top: 0, bottom: 4 }
        }
      },
      y: {
        type: 'linear',
        min: -250,
        max: 250,
        afterBuildTicks: s => { s.ticks = yTicks.map(v => ({ value: v })); },
        afterFit: s => { s.width = 229; s.paddingTop = 0; s.paddingBottom = 0; },
        grid: { drawOnChartArea: false, tickLength: 13, tickWidth: 3, tickColor: '#000' },
        border: { display: false },
        ticks: {
          font: tickFont,
          color: '#000',
          padding: 13,
          callback: v => String(v).replace('-', '\u2212')
        },
        title: {
          display: true,
          text: 'Deviation of weights from default values',
          font: tickFont,
          color: '#000',
          padding: { top: 38.5, bottom: 0 }
        }
      }
    }
  }
});
</script>
</body>
</html>
